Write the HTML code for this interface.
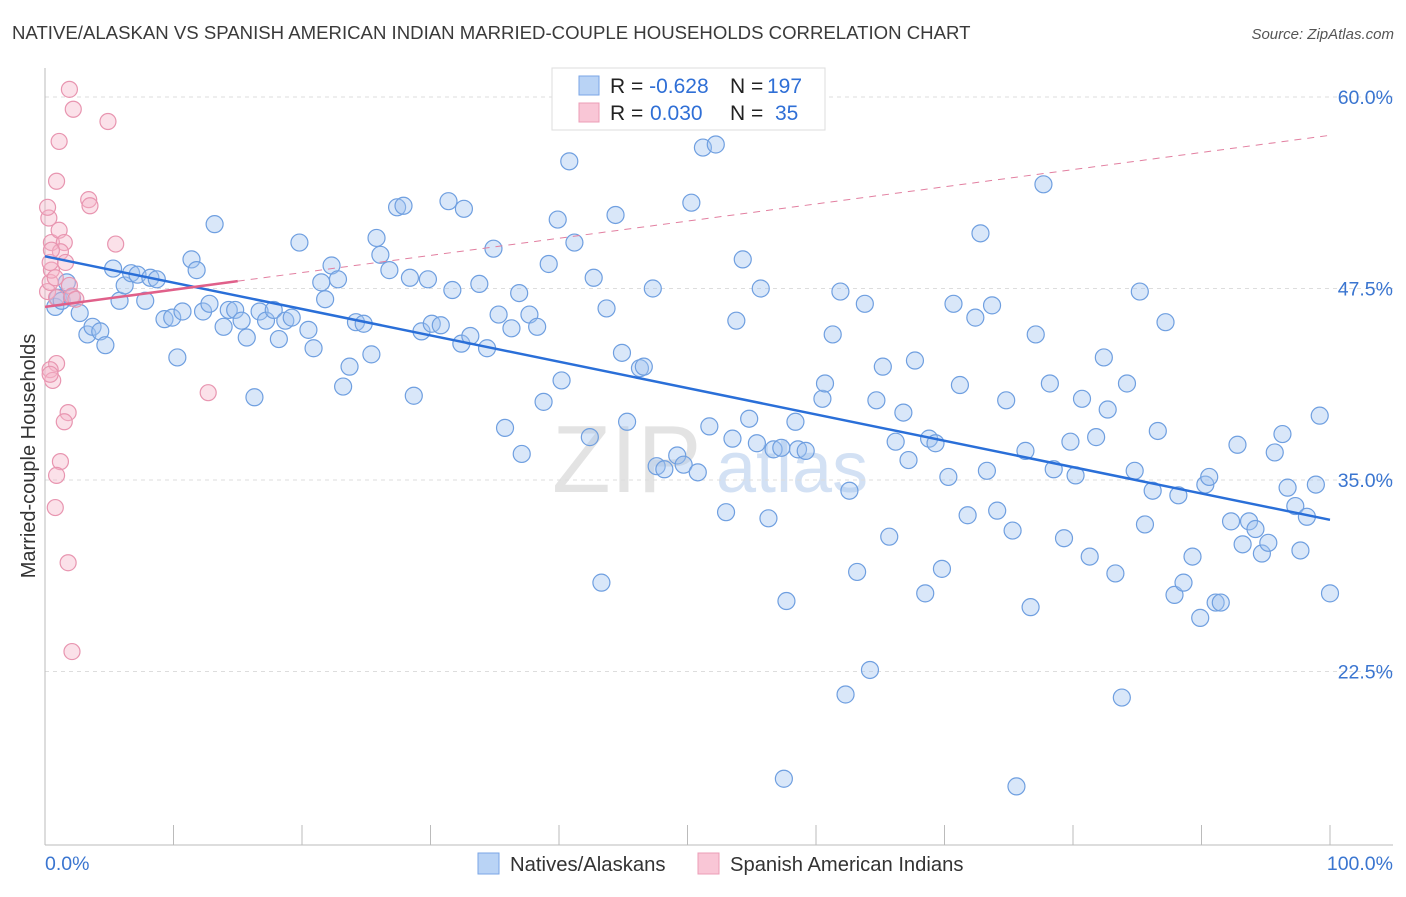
<!DOCTYPE html>
<html><head><meta charset="utf-8"><style>
body{margin:0;background:#fff;font-family:"Liberation Sans",sans-serif}
svg text{font-family:"Liberation Sans",sans-serif}
</style></head><body>
<svg id="chart" width="1406" height="892" xmlns="http://www.w3.org/2000/svg">
<text x="12" y="39" font-size="18.6" fill="#3a3a3a">NATIVE/ALASKAN VS SPANISH AMERICAN INDIAN MARRIED-COUPLE HOUSEHOLDS CORRELATION CHART</text>
<text x="1394" y="39" font-size="15" fill="#555" font-style="italic" text-anchor="end">Source: ZipAtlas.com</text>
<g>
<text x="552" y="492" font-size="96" font-family="Liberation Serif" fill="#ddd" opacity="0.8">ZIP</text>
<text x="716" y="492" font-size="72" fill="#c9daf2" opacity="0.8">atlas</text>
</g>
<g id="grid"></g>
<g id="axes"></g>
<g id="pts"></g>
<g id="trend"></g>
<text transform="translate(35,456) rotate(-90)" font-size="20" fill="#333" text-anchor="middle">Married-couple Households</text>
<g>
<rect x="552" y="68" width="273" height="62" fill="#fff" stroke="#ddd"/>
<rect x="579" y="76" width="20" height="19" fill="#b9d3f5" stroke="#7aa6e6"/>
<rect x="579" y="103" width="20" height="19" fill="#f9c6d6" stroke="#ec9db7"/>
<text x="610" y="93" font-size="21" fill="#222">R = <tspan fill="#2f6fd6">-0.628</tspan><tspan x="730">N = </tspan><tspan fill="#2f6fd6" x="767">197</tspan></text>
<text x="610" y="120" font-size="21" fill="#222">R = <tspan fill="#2f6fd6" x="650">0.030</tspan><tspan x="730">N = </tspan><tspan fill="#2f6fd6" x="775">35</tspan></text>
</g>
<g>
<rect x="478" y="853" width="21" height="21" fill="#b9d3f5" stroke="#7aa6e6"/>
<text x="510" y="871" font-size="20.3" fill="#333">Natives/Alaskans</text>
<rect x="698" y="853" width="21" height="21" fill="#f9c6d6" stroke="#ec9db7"/>
<text x="730" y="871" font-size="20.2" fill="#333">Spanish American Indians</text>
</g>
</svg>
<script>
const yTicks=[60,47.5,35,22.5];
const yTickLabels=["60.0%","47.5%","35.0%","22.5%"];
const xTickLabels=["0.0%","100.0%"];
const blueX=[0.8,1.0,1.3,1.7,2.1,2.7,3.3,3.7,4.3,4.7,5.3,5.8,6.2,6.7,7.2,7.8,8.2,8.7,9.3,9.9,10.3,10.7,11.4,11.8,12.3,12.8,13.2,13.9,14.3,14.8,15.3,15.7,16.3,16.7,17.2,17.8,18.2,18.7,19.2,19.8,20.5,20.9,21.5,21.8,22.3,22.8,23.2,23.7,24.2,24.8,25.4,25.8,26.1,26.8,27.4,27.9,28.4,28.7,29.3,29.8,30.1,30.8,31.4,31.7,32.4,32.6,33.1,33.8,34.4,34.9,35.3,35.8,36.3,36.9,37.1,37.7,38.3,38.8,39.2,39.9,40.2,40.8,41.2,42.4,42.7,43.3,43.7,44.4,44.9,45.3,46.3,46.6,47.3,47.6,48.2,49.2,49.7,50.3,50.8,51.2,51.7,52.2,53.0,53.5,53.8,54.3,54.8,55.4,55.7,56.3,56.7,57.3,57.5,57.7,58.4,58.6,59.2,60.5,60.7,61.3,61.9,62.3,62.6,63.2,63.8,64.2,64.7,65.2,65.7,66.2,66.8,67.2,67.7,68.5,68.8,69.3,69.8,70.3,70.7,71.2,71.8,72.4,72.8,73.3,73.7,74.1,74.8,75.3,75.6,76.3,76.7,77.1,77.7,78.2,78.5,79.3,79.8,80.2,80.7,81.3,81.8,82.4,82.7,83.3,83.8,84.2,84.8,85.2,85.6,86.2,86.6,87.2,87.9,88.2,88.6,89.3,89.9,90.3,90.6,91.1,91.5,92.3,92.8,93.2,93.7,94.2,94.7,95.2,95.7,96.3,96.7,97.3,97.7,98.2,98.9,99.2,100];
const blueY=[46.3,46.9,46.7,47.9,46.9,45.9,44.5,45.0,44.7,43.8,48.8,46.7,47.7,48.5,48.4,46.7,48.2,48.1,45.5,45.6,43.0,46.0,49.4,48.7,46.0,46.5,51.7,45.0,46.1,46.1,45.4,44.3,40.4,46.0,45.4,46.1,44.2,45.4,45.6,50.5,44.8,43.6,47.9,46.8,49.0,48.1,41.1,42.4,45.3,45.2,43.2,50.8,49.7,48.7,52.8,52.9,48.2,40.5,44.7,48.1,45.2,45.1,53.2,47.4,43.9,52.7,44.4,47.8,43.6,50.1,45.8,38.4,44.9,47.2,36.7,45.8,45.0,40.1,49.1,52.0,41.5,55.8,50.5,37.8,48.2,28.3,46.2,52.3,43.3,38.8,42.3,42.4,47.5,35.9,35.7,36.6,36.0,53.1,35.5,56.7,38.5,56.9,32.9,37.7,45.4,49.4,39.0,37.4,47.5,32.5,37.0,37.1,15.5,27.1,38.8,37.0,36.9,40.3,41.3,44.5,47.3,21.0,34.3,29.0,46.5,22.6,40.2,42.4,31.3,37.5,39.4,36.3,42.8,27.6,37.7,37.4,29.2,35.2,46.5,41.2,32.7,45.6,51.1,35.6,46.4,33.0,40.2,31.7,15.0,36.9,26.7,44.5,54.3,41.3,35.7,31.2,37.5,35.3,40.3,30.0,37.8,43.0,39.6,28.9,20.8,41.3,35.6,47.3,32.1,34.3,38.2,45.3,27.5,34.0,28.3,30.0,26.0,34.7,35.2,27.0,27.0,32.3,37.3,30.8,32.3,31.8,30.2,30.9,36.8,38.0,34.5,33.3,30.4,32.6,34.7,39.2,27.6];
const pinkX=[0.2,0.4,0.5,0.8,0.4,0.5,0.3,0.2,0.9,1.1,1.9,2.2,4.9,3.4,3.5,1.1,1.5,1.2,1.6,0.5,0.9,1.9,2.1,2.4,5.5,12.7,0.9,0.4,0.6,0.4,1.8,1.5,1.2,0.9,0.8,1.8,2.1];
const pinkY=[47.3,47.9,48.7,48.2,49.2,50.5,52.1,52.8,54.5,57.1,60.5,59.2,58.4,53.3,52.9,51.3,50.5,49.9,49.2,50.0,46.9,47.7,47.0,46.8,50.4,40.7,42.6,42.2,41.5,41.9,39.4,38.8,36.2,35.3,33.2,29.6,23.8];
const blueTrend=[49.6,32.4];
const pinkTrend=[46.3,57.5];
const pinkSolidEnd=15;

const NS="http://www.w3.org/2000/svg";
const X=v=>45+v*12.85;
const Y=v=>97+(60-v)*15.32;
function mk(tag,attrs,parent){const e=document.createElementNS(NS,tag);for(const k in attrs)e.setAttribute(k,attrs[k]);document.getElementById(parent).appendChild(e);return e;}
yTicks.forEach((t,i)=>{
  const l=mk('line',{x1:45,x2:1393,y1:Y(t),y2:Y(t),stroke:'#ddd','stroke-dasharray':'4,4'},'grid');
  
  
  const tx=mk('text',{x:1393,y:Y(t)+7,'font-size':19.5,fill:'#3a75d0','text-anchor':'end'},'grid');
  tx.textContent=yTickLabels[i];
  
  
});
const ya=mk('line',{x1:45,x2:45,y1:68,y2:845,stroke:'#bbb'},'axes');


const xa=mk('line',{x1:45,x2:1393,y1:845,y2:845,stroke:'#bbb'},'axes');


for(let i=0;i<=10;i++){
  const t=mk('line',{x1:X(i*10),x2:X(i*10),y1:825,y2:845,stroke:'#bbb'},'axes');
  
  
}
[[0,'start'],[100,'end']].forEach((p,i)=>{
  const t=mk('text',{x:i?1393:45,y:870,'font-size':19.5,fill:'#3a75d0','text-anchor':p[1]},'axes');
  t.textContent=xTickLabels[i];
  
  
});
blueX.forEach((v,i)=>{
  const c=mk('circle',{cx:X(v),cy:Y(blueY[i]),r:8.5,fill:'rgba(160,196,240,0.4)',stroke:'#6f9fe0','stroke-width':1.2},'pts');
  
  
});
pinkX.forEach((v,i)=>{
  const c=mk('circle',{cx:X(v),cy:Y(pinkY[i]),r:8,fill:'rgba(245,180,200,0.4)',stroke:'#e895b0','stroke-width':1.2},'pts');
  
  
});
const bt=mk('line',{x1:X(0),y1:Y(blueTrend[0]),x2:X(100),y2:Y(blueTrend[1]),stroke:'#2a6fd8','stroke-width':2.5},'trend');


const pAt=x=>pinkTrend[0]+(pinkTrend[1]-pinkTrend[0])*x/100;
const pd=mk('line',{x1:X(pinkSolidEnd),y1:Y(pAt(pinkSolidEnd)),x2:X(100),y2:Y(pinkTrend[1]),stroke:'#e27fa0','stroke-width':1,'stroke-dasharray':'7,6'},'trend');


const ps=mk('line',{x1:X(0),y1:Y(pinkTrend[0]),x2:X(pinkSolidEnd),y2:Y(pAt(pinkSolidEnd)),stroke:'#e0608a','stroke-width':2.5},'trend');


</script>
</body></html>
